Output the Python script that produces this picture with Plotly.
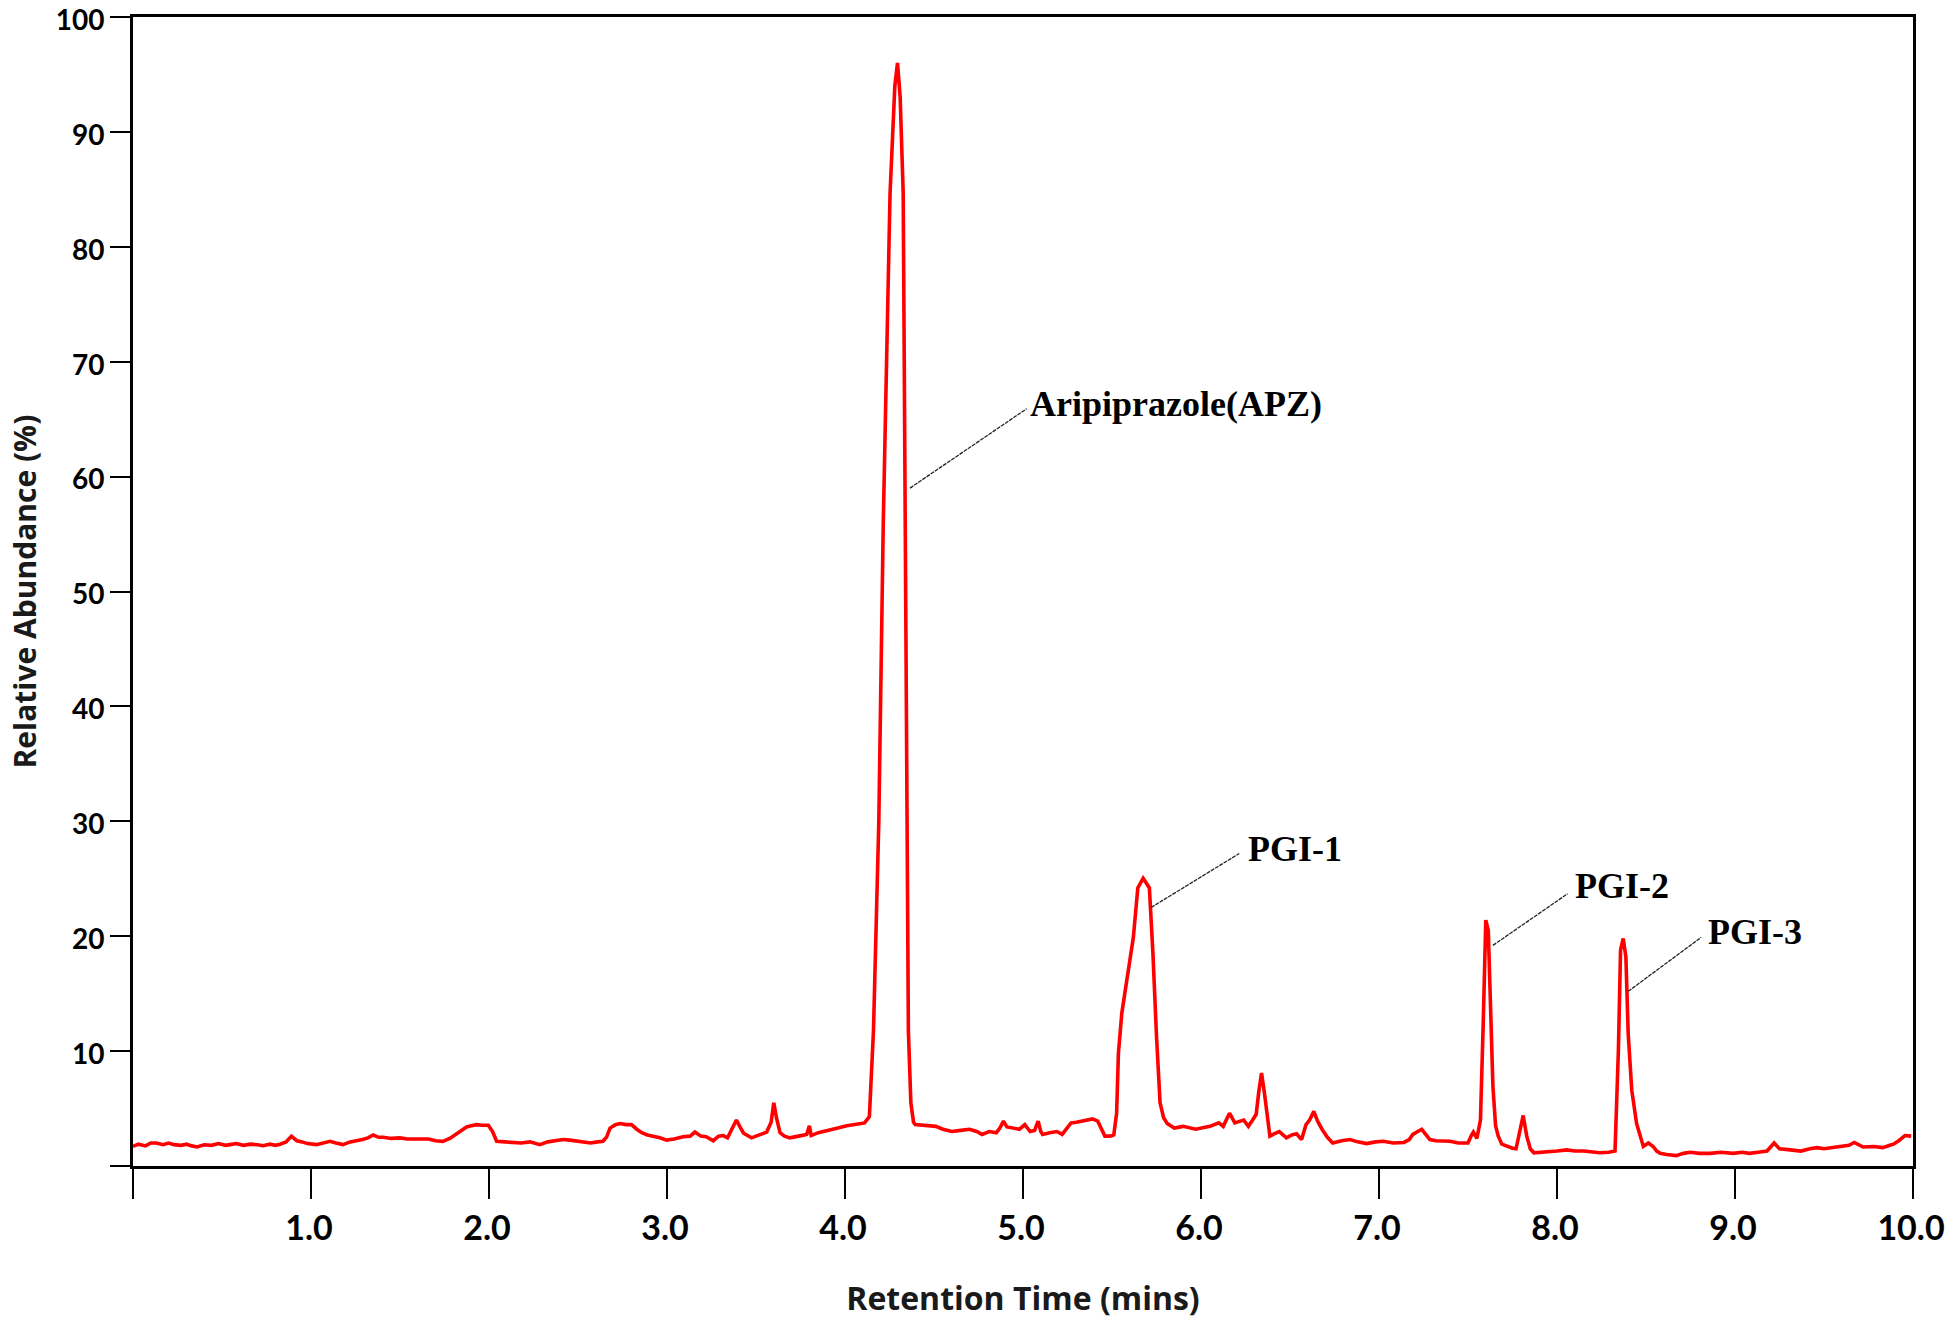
import plotly.graph_objects as go

# Retention time (min) and relative abundance (%)
rt = [0.00, 0.03, 0.07, 0.10, 0.13, 0.17, 0.20, 0.23, 0.27, 0.30, 0.33, 0.36, 0.40, 0.44, 0.48,
      0.52, 0.545, 0.58, 0.62, 0.66, 0.70, 0.73, 0.77, 0.80, 0.826, 0.86, 0.89, 0.92, 0.95, 0.98,
      1.03, 1.07, 1.107, 1.14, 1.18, 1.22, 1.26, 1.29, 1.32, 1.35, 1.38, 1.406, 1.45, 1.50, 1.54,
      1.575, 1.62, 1.66, 1.70, 1.74, 1.78, 1.81, 1.84, 1.874, 1.90, 1.93, 1.96, 1.996, 2.02, 2.043,
      2.09, 2.137, 2.18, 2.23, 2.286, 2.33, 2.37, 2.417, 2.455, 2.50, 2.54, 2.57, 2.61, 2.64, 2.66,
      2.68, 2.71, 2.736, 2.77, 2.80, 2.83, 2.858, 2.89, 2.92, 2.96, 2.998, 3.04, 3.09, 3.13, 3.157,
      3.19, 3.22, 3.26, 3.29, 3.316, 3.34, 3.365, 3.39, 3.41, 3.43, 3.475, 3.52, 3.56, 3.585, 3.60,
      3.615, 3.635, 3.66, 3.69, 3.74, 3.785, 3.80, 3.81, 3.85, 3.92, 3.96, 4.01, 4.06, 4.11, 4.137,
      4.16, 4.19, 4.215, 4.253, 4.28, 4.295, 4.31, 4.327, 4.337, 4.35, 4.356, 4.37, 4.385, 4.395, 4.45,
      4.51, 4.55, 4.60, 4.65, 4.70, 4.74, 4.77, 4.81, 4.85, 4.87, 4.89, 4.91, 4.94, 4.98, 5.01,
      5.04, 5.065, 5.085, 5.10, 5.11, 5.15, 5.19, 5.22, 5.245, 5.27, 5.30, 5.34, 5.37, 5.39, 5.42,
      5.44, 5.46, 5.49, 5.51, 5.526, 5.536, 5.555, 5.59, 5.62, 5.645, 5.675, 5.71, 5.73, 5.75, 5.77,
      5.79, 5.81, 5.85, 5.90, 5.97, 6.05, 6.10, 6.125, 6.16, 6.19, 6.24, 6.266, 6.29, 6.31, 6.325,
      6.34, 6.355, 6.37, 6.387, 6.41, 6.44, 6.48, 6.51, 6.537, 6.565, 6.59, 6.61, 6.634, 6.655, 6.68,
      6.71, 6.74, 6.79, 6.837, 6.88, 6.93, 6.98, 7.025, 7.08, 7.14, 7.17, 7.19, 7.215, 7.24, 7.26,
      7.286, 7.32, 7.36, 7.40, 7.445, 7.50, 7.52, 7.53, 7.55, 7.57, 7.586, 7.60, 7.614, 7.623, 7.64,
      7.655, 7.67, 7.69, 7.72, 7.75, 7.77, 7.79, 7.81, 7.83, 7.85, 7.87, 7.92, 7.96, 8.00, 8.055,
      8.10, 8.15, 8.20, 8.24, 8.29, 8.326, 8.345, 8.357, 8.372, 8.387, 8.40, 8.42, 8.447, 8.485, 8.513,
      8.54, 8.56, 8.58, 8.616, 8.67, 8.71, 8.75, 8.80, 8.86, 8.92, 8.99, 9.04, 9.08, 9.13, 9.18,
      9.22, 9.25, 9.31, 9.37, 9.42, 9.46, 9.50, 9.55, 9.60, 9.64, 9.67, 9.72, 9.78, 9.83, 9.87,
      9.89, 9.92, 9.955, 9.99]

abundance = [1.7, 1.9, 1.75, 2.0, 2.0, 1.85, 2.0, 1.86, 1.8, 1.9, 1.75, 1.66, 1.85, 1.8, 1.95,
             1.8, 1.86, 1.95, 1.8, 1.9, 1.85, 1.77, 1.9, 1.8, 1.9, 2.1, 2.6, 2.2, 2.1, 1.95,
             1.86, 2.0, 2.15, 2.0, 1.86, 2.1, 2.2, 2.3, 2.45, 2.7, 2.5, 2.5, 2.4, 2.45, 2.35,
             2.35, 2.3, 2.35, 2.2, 2.15, 2.4, 2.7, 3.0, 3.4, 3.5, 3.6, 3.55, 3.55, 3.0, 2.15,
             2.1, 2.05, 2.0, 2.1, 1.86, 2.1, 2.2, 2.3, 2.25, 2.15, 2.1, 2.0, 2.1, 2.15, 2.5,
             3.3, 3.6, 3.7, 3.6, 3.6, 3.2, 2.9, 2.7, 2.6, 2.45, 2.25, 2.35, 2.55, 2.6, 2.95,
             2.6, 2.55, 2.2, 2.6, 2.65, 2.45, 3.2, 4.0, 3.4, 2.85, 2.45, 2.7, 2.95, 3.8, 5.5,
             4.2, 2.9, 2.6, 2.45, 2.6, 2.75, 3.5, 2.65, 2.9, 3.2, 3.3, 3.5, 3.6, 3.75, 4.3,
             11.8, 30.0, 56.0, 84.6, 94.0, 96.0, 93.0, 84.6, 56.0, 25.0, 11.8, 5.5, 3.8, 3.6, 3.5,
             3.45, 3.2, 3.0, 3.1, 3.2, 3.0, 2.75, 3.0, 2.9, 3.3, 3.9, 3.4, 3.3, 3.2, 3.6,
             3.0, 3.1, 3.9, 3.0, 2.75, 2.9, 3.0, 2.75, 3.2, 3.75, 3.8, 3.9, 4.0, 4.1, 3.9,
             3.2, 2.6, 2.6, 2.7, 4.6, 9.8, 13.3, 17.0, 19.9, 24.2, 25.05, 24.2, 18.5, 11.3, 5.5,
             4.2, 3.7, 3.3, 3.45, 3.2, 3.45, 3.75, 3.45, 4.6, 3.75, 4.0, 3.45, 4.0, 4.5, 6.5,
             8.1, 6.5, 4.6, 2.6, 2.8, 3.0, 2.45, 2.7, 2.8, 2.3, 3.6, 4.0, 4.75, 3.9, 3.2,
             2.5, 2.0, 2.2, 2.3, 2.1, 1.95, 2.1, 2.15, 2.0, 2.05, 2.3, 2.75, 3.0, 3.2, 2.8,
             2.3, 2.2, 2.15, 2.15, 2.0, 2.0, 2.7, 2.95, 2.4, 4.0, 12.7, 21.4, 20.5, 15.6, 6.9,
             3.5, 2.6, 1.9, 1.7, 1.55, 1.5, 3.0, 4.4, 2.6, 1.5, 1.15, 1.2, 1.2, 1.3, 1.4,
             1.3, 1.3, 1.25, 1.15, 1.2, 1.3, 10.1, 18.8, 19.8, 18.2, 11.5, 6.6, 3.7, 1.7, 2.0,
             1.7, 1.3, 1.1, 1.0, 0.9, 1.1, 1.2, 1.1, 1.1, 1.2, 1.1, 1.2, 1.1, 1.2, 1.3,
             2.0, 1.5, 1.4, 1.3, 1.5, 1.6, 1.5, 1.6, 1.7, 1.8, 2.05, 1.65, 1.7, 1.6, 1.8,
             1.9, 2.2, 2.65, 2.6]

x_tickvals = [0, 1, 2, 3, 4, 5, 6, 7, 8, 9, 10]
x_ticktext = ["", "1.0", "2.0", "3.0", "4.0", "5.0", "6.0", "7.0", "8.0", "9.0", "10.0"]
y_tickvals = [0, 10, 20, 30, 40, 50, 60, 70, 80, 90, 100]
y_ticktext = ["", "10", "20", "30", "40", "50", "60", "70", "80", "90", "100"]

x_title = "Retention Time (mins)"
y_title = "Relative Abundance (%)"

# Peak labels: text, leader-line start (on peak), leader-line end / label anchor
peak_labels = ["Aripiprazole(APZ)", "PGI-1", "PGI-2", "PGI-3"]
leader_start_x = [4.365, 5.72, 7.64, 8.40]
leader_start_y = [59.0, 22.5, 19.2, 15.2]
leader_end_x = [5.02, 6.215, 8.06, 8.81]
leader_end_y = [65.9, 27.2, 23.7, 19.9]
label_x = [5.03, 6.25, 8.09, 8.835]
label_y = [66.3, 27.6, 24.4, 20.4]

fig = go.Figure()
fig.add_trace(go.Scatter(x=rt, y=abundance, mode="lines",
                         line=dict(color="#ff0000", width=3.6), showlegend=False,
                         hoverinfo="skip"))

for i, lab in enumerate(peak_labels):
    fig.add_shape(type="line", xref="x", yref="y",
                  x0=leader_start_x[i], y0=leader_start_y[i],
                  x1=leader_end_x[i], y1=leader_end_y[i],
                  line=dict(color="#222222", width=1.3, dash="4px,1px"))
    fig.add_annotation(x=label_x[i], y=label_y[i], xref="x", yref="y", text=lab,
                       showarrow=False, xanchor="left", yanchor="middle",
                       font=dict(family="Liberation Serif", size=36, color="black",
                                 weight="bold"))

# Y-axis title placed beside the axis
fig.add_annotation(x=0, y=0.5, xref="paper", yref="paper", text=y_title,
                   showarrow=False, textangle=-90, xanchor="center", yanchor="middle",
                   xshift=-109,
                   font=dict(family="Open Sans", size=30, color="#1a1a1a", weight="bold"))

axis_common = dict(showline=True, linecolor="black", linewidth=3, mirror=True,
                   ticks="outside", tickcolor="black", tickwidth=2,
                   showgrid=False, zeroline=False, automargin=False,
                   ticklabeloverflow="allow")

fig.update_layout(
    width=1946, height=1323,
    margin=dict(l=133, r=33, t=17, b=157),
    paper_bgcolor="white", plot_bgcolor="white",
    xaxis=dict(range=[0, 10], tickvals=x_tickvals, ticktext=x_ticktext, ticklen=30,
               ticklabelshift=-2,
               tickfont=dict(family="Lato", size=34, color="black", weight="bold"),
               title=dict(text=x_title, standoff=42,
                          font=dict(family="Open Sans", size=32, color="#1a1a1a", weight="bold")),
               **axis_common),
    yaxis=dict(range=[0, 100], tickvals=y_tickvals, ticktext=y_ticktext, ticklen=20,
               ticklabelshift=3,
               tickfont=dict(family="Lato", size=28, color="black", weight="bold"),
               **axis_common),
)

fig.write_html("out.html", config={"displayModeBar": False},
               post_script="document.body.style.margin='0';")
